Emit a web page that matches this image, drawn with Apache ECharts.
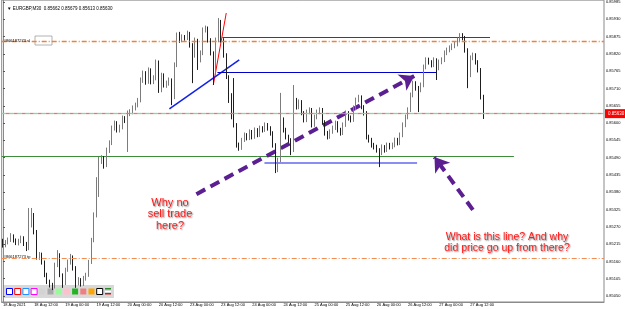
<!DOCTYPE html>
<html lang="en">
<head>
    <meta charset="UTF-8">
    <title>EURGBP M30</title>
    <script src="https://cdn.jsdelivr.net/npm/echarts@6/dist/echarts.min.js"></script>
    <style>
        html, body { margin: 0; padding: 0; background: #fff; }
    </style>
</head>
<body>
<div id="chart" style="width: 625px;height:309px;"></div>
<script>
    // hourly bars, prices in points (price * 100000)
    let open = [85225,85212,85219,85228,85241,85228,85219,85225,85235,85216,85200,85276,85308,85254,85174,85181,85158,85117,85095,85085,
        85079,85149,85181,85117,85091,85133,85158,85174,85139,85091,85101,85088,85107,85117,85158,85228,85308,85419,85483,85489,
        85467,85514,85537,85584,85600,85578,85587,85616,85610,85632,85635,85648,85657,85673,85737,85759,85731,85769,85731,85743,
        85794,85705,85753,85721,85727,85737,85683,85785,85880,85864,85874,85871,85886,85848,85816,85864,85801,85823,85896,85902,
        85864,85823,85759,85864,85902,85864,85816,85747,85689,85619,85594,85530,85521,85546,85562,85553,85572,85556,85578,85562,
        85584,85578,85594,85584,85568,85530,85451,85483,85610,85578,85556,85546,85514,85673,85651,85667,85632,85610,85635,85642,
        85594,85619,85635,85642,85603,85568,85556,85572,85584,85600,85578,85568,85594,85632,85616,85610,85648,85673,85683,85651,
        85632,85556,85546,85530,85524,85514,85505,85524,85514,85530,85524,85530,85546,85537,85562,85594,85619,85642,85689,85727,
        85711,85705,85721,85778,85801,85794,85785,85801,85775,85794,85801,85823,85832,85839,85845,85851,85864,85874,85871,85832,
        85753,85807,85816,85794,85769,85683];
    let close = [85212,85219,85228,85241,85228,85219,85225,85235,85216,85200,85276,85308,85254,85174,85181,85158,85117,85095,85085,85079,
        85149,85181,85117,85091,85133,85158,85174,85139,85091,85101,85088,85107,85117,85158,85228,85308,85419,85483,85489,85467,
        85514,85537,85584,85600,85578,85587,85616,85610,85632,85635,85648,85657,85673,85737,85759,85731,85769,85731,85743,85794,
        85705,85753,85721,85727,85737,85683,85785,85880,85864,85874,85871,85886,85848,85816,85864,85801,85823,85896,85902,85864,
        85823,85759,85864,85902,85864,85816,85747,85689,85619,85594,85530,85521,85546,85562,85553,85572,85556,85578,85562,85584,
        85578,85594,85584,85568,85530,85451,85483,85610,85578,85556,85546,85514,85673,85651,85667,85632,85610,85635,85642,85594,
        85619,85635,85642,85603,85568,85556,85572,85584,85600,85578,85568,85594,85632,85616,85610,85648,85673,85683,85651,85632,
        85556,85546,85530,85524,85514,85505,85524,85514,85530,85524,85530,85546,85537,85562,85594,85619,85642,85689,85727,85711,
        85705,85721,85778,85801,85794,85785,85801,85775,85794,85801,85823,85832,85839,85845,85851,85864,85874,85871,85832,85753,
        85807,85816,85794,85769,85683,85630];
    let low = [85204,85205,85214,85222,85220,85212,85211,85218,85209,85193,85196,85268,85246,85166,85165,85150,85110,85088,85077,85069,
        85074,85142,85110,85076,85085,85127,85150,85131,85076,85084,85080,85082,85099,85111,85152,85221,85300,85365,85470,85455,
        85460,85505,85530,85576,85570,85570,85580,85600,85508,85622,85628,85640,85650,85666,85728,85722,85725,85723,85724,85736,
        85696,85698,85713,85712,85719,85657,85676,85778,85855,85857,85862,85864,85840,85727,85808,85769,85793,85816,85888,85856,
        85815,85721,85752,85857,85856,85808,85740,85664,85612,85586,85522,85512,85515,85540,85545,85546,85548,85550,85555,85556,
        85570,85572,85576,85560,85522,85441,85444,85476,85570,85548,85538,85498,85508,85643,85644,85625,85602,85603,85628,85586,
        85588,85612,85628,85595,85560,85548,85550,85566,85578,85570,85560,85562,85588,85608,85602,85604,85641,85666,85644,85624,
        85548,85538,85522,85516,85506,85460,85498,85506,85508,85516,85517,85523,85529,85530,85555,85587,85612,85635,85682,85703,
        85635,85698,85714,85771,85786,85777,85778,85737,85768,85787,85794,85816,85825,85832,85838,85844,85857,85863,85824,85711,
        85746,85800,85786,85761,85675,85613];
    let high = [85232,85228,85236,85250,85246,85233,85232,85242,85240,85222,85330,85330,85314,85260,85190,85188,85163,85124,85102,85092,
        85156,85196,85186,85122,85140,85166,85184,85179,85145,85110,85107,85114,85124,85165,85235,85316,85428,85492,85498,85495,
        85522,85545,85592,85608,85606,85595,85624,85622,85640,85644,85656,85665,85680,85745,85767,85765,85777,85774,85752,85802,
        85799,85760,85758,85735,85745,85742,85793,85888,85890,85882,85880,85894,85890,85854,85872,85868,85831,85904,85910,85907,
        85870,85828,85872,85934,85928,85870,85822,85752,85695,85743,85600,85538,85553,85570,85568,85580,85578,85586,85584,85592,
        85590,85602,85600,85590,85574,85536,85490,85696,85618,85585,85563,85552,85721,85680,85675,85673,85638,85643,85650,85648,
        85627,85643,85650,85648,85609,85575,85580,85592,85608,85606,85585,85602,85640,85638,85624,85656,85681,85690,85688,85657,
        85638,85563,85553,85537,85531,85520,85532,85530,85538,85537,85538,85554,85553,85570,85602,85627,85650,85697,85735,85733,
        85718,85729,85786,85809,85808,85800,85809,85806,85802,85809,85831,85840,85847,85853,85859,85872,85886,85886,85877,85838,
        85815,85824,85822,85800,85775,85690];

    let tickLabels = ['18 Aug 2021', '18 Aug 12:00', '19 Aug 00:00', '19 Aug 12:00', '20 Aug 00:00', '20 Aug 12:00',
        '23 Aug 00:00', '23 Aug 12:00', '24 Aug 00:00', '24 Aug 12:00', '25 Aug 00:00', '25 Aug 12:00',
        '26 Aug 00:00', '26 Aug 12:00', '27 Aug 00:00', '27 Aug 12:00'];
    let yTicks = [0.85050, 0.85105, 0.85160, 0.85215, 0.85270, 0.85325, 0.85380, 0.85435, 0.85490,
        0.85545, 0.85600, 0.85655, 0.85710, 0.85765, 0.85820, 0.85875, 0.85930, 0.85985];

    // levels drawn on the chart
    let slLevel = 0.85859;
    let tpLevel = 0.85171;
    let bidLevel = 0.85630;
    let lastPrice = '0.85630';

    let barsPerLabel = 12;
    let slots = 232; // includes empty space right of the last bar

    let categories = [];
    for (let i = 0; i < slots; i++) categories.push(String(i));

    let ohlc = [];
    for (let i = 0; i < open.length; i++) {
        ohlc.push([open[i] / 1e5, close[i] / 1e5, low[i] / 1e5, high[i] / 1e5]);
    }

    let chart = echarts.init(document.getElementById('chart'));

    let showTick = function (index) {
        return index % barsPerLabel === 0 && index / barsPerLabel < tickLabels.length;
    };

    let dashDot = [5, 2, 1, 2];
    let small = {fontSize: 4, fontFamily: 'Liberation Sans', color: '#000'};

    function seg(x1, y1, x2, y2, color, width, type) {
        return {
            coords: [[x1, y1], [x2, y2]],
            lineStyle: {color: color, width: width, type: type || 'solid', opacity: 1, curveness: 0}
        };
    }

    // trend lines and levels (bar index, price)
    let drawnLines = [
        seg(81.0, 0.85721, 86.0, 0.85950, '#ff0000', 1),
        seg(64.1, 0.85645, 91.0, 0.85801, '#1020e8', 1.5),
        seg(84.5, 0.85874, 187.6, 0.85874, '#e00000', 1),
        seg(82.6, 0.85762, 166.8, 0.85762, '#0000c8', 1),
        seg(-0.5, 0.85495, 196.8, 0.85495, '#3c8c3c', 1),
        seg(100.7, 0.85473, 159.5, 0.85473, '#8c8cf5', 2)
    ];
    let arrows = [
        seg(74.5, 0.85374, 158.4, 0.85750, '#5b1f91', 4, [10, 6]),
        seg(181.0, 0.85324, 166.2, 0.85492, '#5b1f91', 4, [10, 6])
    ];

    let textStyleRed = {
        fill: '#ff1a1a',
        font: '11px "Liberation Sans"',
        textAlign: 'center',
        textShadowColor: 'rgba(0,0,0,0.45)',
        textShadowBlur: 1.5,
        textShadowOffsetX: 1,
        textShadowOffsetY: 1,
        lineHeight: 11.5
    };

    let palette = [
        ['#0000ff', null], ['#ff0000', null], ['#1e90ff', null], ['#ff00ff', null],
        [null, '#d3d3d3'], [null, '#a9a9a9'], [null, '#98fb98'], [null, '#ffc0cb'],
        [null, '#22b422'], [null, '#f08080'], [null, '#ffa500'], ['#000000', null]
    ];
    let paletteGraphics = [{
        type: 'rect', shape: {x: 4, y: 285, width: 110, height: 13},
        style: {fill: '#d8d8d8'}, silent: true
    }];
    palette.forEach(function (p, i) {
        paletteGraphics.push({
            type: 'rect',
            shape: {x: 6.5 + 8.2 * i, y: 288.5, width: 6, height: 6},
            style: {fill: p[1] || '#ffffff', stroke: p[0] || null, lineWidth: 1}
        });
    });
    paletteGraphics.push(
        {type: 'rect', shape: {x: 105, y: 288, width: 6, height: 1.5}, style: {fill: '#2a8a2a'}},
        {type: 'rect', shape: {x: 105, y: 291, width: 6, height: 1}, style: {fill: '#ffffff'}},
        {type: 'rect', shape: {x: 105, y: 293, width: 6, height: 1.5}, style: {fill: '#c02020'}}
    );

    let option = {
        animation: false,
        title: {
            text: '\u25BC EURGBP,M30  0.85662 0.85679 0.85613 0.85630',
            left: 2, top: 1,
            textStyle: {fontSize: 4.5, fontWeight: 'normal', fontFamily: 'Liberation Sans', color: '#000'}
        },
        grid: {left: 0, right: 21, top: 0, bottom: 7, show: true, borderColor: '#8a8a8a', borderWidth: 1},
        xAxis: [{
            type: 'category',
            data: categories,
            boundaryGap: true,
            axisLine: {lineStyle: {color: '#8a8a8a'}},
            axisTick: {interval: showTick, alignWithLabel: true, length: 2, lineStyle: {color: '#555'}},
            axisLabel: Object.assign({
                interval: showTick,
                align: 'left',
                margin: 1,
                formatter: function (v, index) {
                    return tickLabels[index / barsPerLabel] || '';
                }
            }, small),
            splitLine: {show: false}
        }, {
            type: 'value', min: -0.5, max: slots - 0.5, show: false
        }],
        yAxis: {
            type: 'value',
            position: 'right',
            min: 0.85031,
            max: 0.85991,
            axisLine: {show: true, lineStyle: {color: '#8a8a8a'}},
            axisTick: {show: true, length: 2, customValues: yTicks, lineStyle: {color: '#555'}},
            axisLabel: Object.assign({
                customValues: yTicks,
                margin: 2,
                formatter: function (v) { return v.toFixed(5); }
            }, small),
            splitLine: {show: false}
        },
        series: [{
            type: 'candlestick',
            data: ohlc,
            barMaxWidth: 2.2,
            itemStyle: {
                color: '#a4a4a4', borderColor: '#7c7c7c',
                color0: '#0a0a0a', borderColor0: '#1e1e1e',
                borderWidth: 1
            },
            markLine: {
                silent: true,
                symbol: 'none',
                precision: 5,
                data: [
                    {yAxis: slLevel, lineStyle: {color: '#f0803a', width: 1.3, type: dashDot, opacity: 1},
                        label: Object.assign({show: true, position: 'insideStartTop', distance: [2, -1], formatter: '#866187273 sl'}, small)},
                    {yAxis: tpLevel, lineStyle: {color: '#f58c50', width: 1, type: dashDot, opacity: 1},
                        label: Object.assign({show: true, position: 'insideStartTop', distance: [2, -1], formatter: '#866187273 tp'}, small)},
                    {yAxis: bidLevel, lineStyle: {color: '#7ddca0', width: 1.3, type: [4, 4], opacity: 1}, label: {show: false}},
                    {yAxis: bidLevel, lineStyle: {color: '#f07070', width: 1.3, type: [4, 4], dashOffset: 4, opacity: 1},
                        label: {show: true, position: 'end', distance: 1, formatter: lastPrice,
                            backgroundColor: '#ff0000', color: '#ffffff', fontSize: 4.5,
                            fontFamily: 'Liberation Sans', padding: [2, 3]}}
                ]
            }
        }, {
            type: 'lines',
            coordinateSystem: 'cartesian2d',
            xAxisIndex: 1,
            yAxisIndex: 0,
            silent: true,
            symbol: 'none',
            data: drawnLines
        }, {
            type: 'lines',
            coordinateSystem: 'cartesian2d',
            xAxisIndex: 1,
            yAxisIndex: 0,
            silent: true,
            symbol: ['none', 'arrow'],
            symbolSize: 14,
            data: arrows
        }],
        graphic: [
            {type: 'rect', shape: {x: 35, y: 36, width: 17, height: 9},
                style: {fill: '#ffffff', stroke: '#a0a0a0', lineWidth: 0.8}},
            {type: 'text', x: 170, y: 197, style: Object.assign({}, textStyleRed, {text: 'Why no\nsell trade\nhere?'})},
            {type: 'text', x: 507, y: 232, style: Object.assign({}, textStyleRed,
                    {text: 'What is this line? And why\ndid price go up from there?', font: '10.5px "Liberation Sans"', lineHeight: 10.5})}
        ].concat(paletteGraphics)
    };

    chart.setOption(option);
</script>
</body>
</html>
